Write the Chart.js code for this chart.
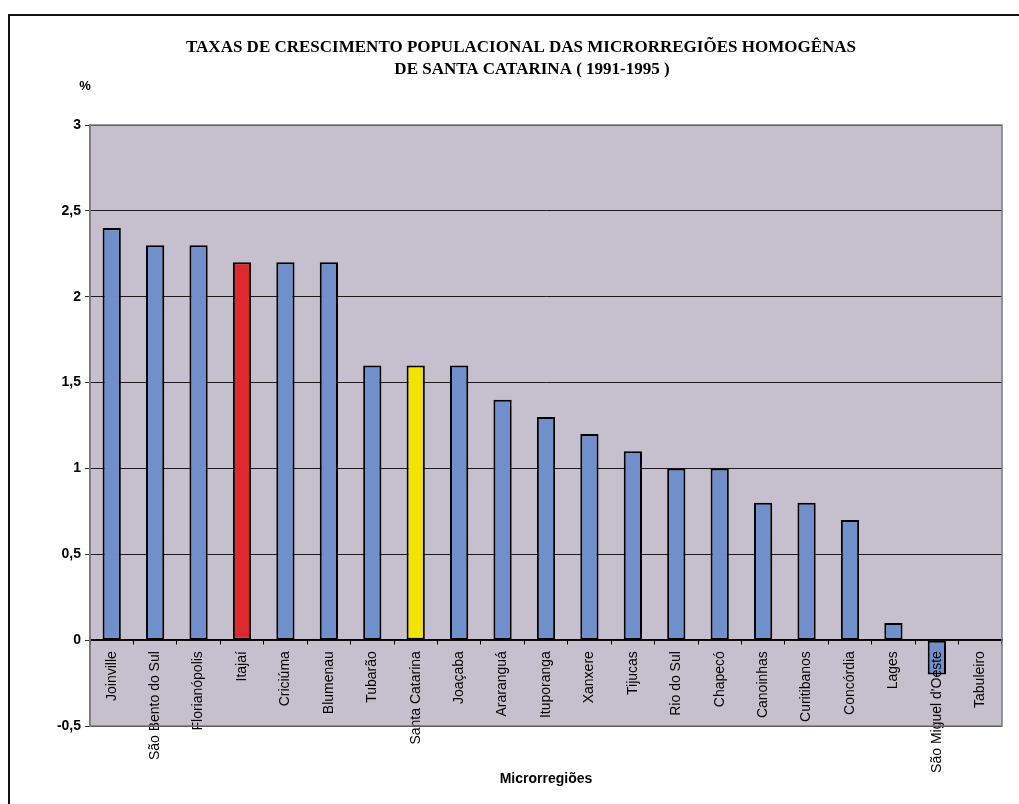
<!DOCTYPE html>
<html>
<head>
<meta charset="utf-8">
<script src="https://cdn.jsdelivr.net/npm/chart.js@4"></script>
<style>
  html, body { margin: 0; padding: 0; background: #ffffff; }
  #wrap { width: 1019px; height: 804px; position: relative; }
</style>
</head>
<body>
<div id="wrap"><canvas id="c" width="1019" height="804"></canvas></div>
<script>
// ---- data ----
const categories = ["Joinville", "São Bento do Sul", "Florianópolis", "Itajaí", "Criciúma", "Blumenau",
  "Tubarão", "Santa Catarina", "Joaçaba", "Araranguá", "Ituporanga", "Xanxere", "Tijucas",
  "Rio do Sul", "Chapecó", "Canoinhas", "Curitibanos", "Concórdia", "Lages", "São Miguel d'Oeste", "Tabuleiro"];
const growthRates = [2.4, 2.3, 2.3, 2.2, 2.2, 2.2, 1.6, 1.6, 1.6, 1.4, 1.3, 1.2, 1.1, 1.0, 1.0, 0.8, 0.8, 0.7, 0.1, -0.2, 0];
const yTickValues = [-0.5, 0, 0.5, 1, 1.5, 2, 2.5, 3];
const titleLines = ["TAXAS DE CRESCIMENTO POPULACIONAL DAS MICRORREGIÕES HOMOGÊNAS", "DE SANTA CATARINA ( 1991-1995 )"];
const yUnit = "%";
const xTitle = "Microrregiões";

// ---- styles ----
const BLUE = "#7090cc", RED = "#dc2a2e", YELLOW = "#f2e400";
const highlight = { "Itajaí": RED, "Santa Catarina": YELLOW };
const barColors = categories.map(c => highlight[c] || BLUE);

const decor = {
  id: "decor",
  beforeDraw(chart) {
    const { ctx, chartArea: a } = chart;
    ctx.save();
    ctx.fillStyle = "#c6bfcd";
    ctx.fillRect(a.left, a.top, a.right - a.left, a.bottom - a.top);
    ctx.restore();
  },
  afterDraw(chart) {
    const { ctx, chartArea: a } = chart;
    ctx.save();
    // plot border
    ctx.strokeStyle = "#7a7a7a";
    ctx.lineWidth = 1.5;
    ctx.strokeRect(a.left, a.top, a.right - a.left, a.bottom - a.top);
    // outer frame (top and left)
    ctx.strokeStyle = "#111";
    ctx.lineWidth = 2;
    ctx.beginPath();
    ctx.moveTo(9, 804); ctx.lineTo(9, 15); ctx.lineTo(1019, 15);
    ctx.stroke();
    // title
    ctx.fillStyle = "#000";
    ctx.textAlign = "center";
    ctx.textBaseline = "alphabetic";
    ctx.font = "bold 17px 'Liberation Serif', 'Times New Roman', serif";
    ctx.fillText(titleLines[0], 521, 52);
    ctx.fillText(titleLines[1], 532, 74);
    // unit
    ctx.font = "bold 13px 'Liberation Sans', Arial, sans-serif";
    ctx.fillText(yUnit, 85, 90);
    // x title
    ctx.font = "bold 14px 'Liberation Sans', Arial, sans-serif";
    ctx.fillText(xTitle, 546, 783);
    ctx.restore();
  }
};

new Chart(document.getElementById("c"), {
  type: "bar",
  data: {
    labels: categories,
    datasets: [{
      data: growthRates,
      backgroundColor: barColors,
      borderColor: "#000",
      borderWidth: 2,
      borderSkipped: false,
      barPercentage: 0.42,
      categoryPercentage: 1.0
    }]
  },
  options: {
    responsive: false,
    animation: false,
    devicePixelRatio: 1,
    layout: { padding: { left: 40, right: 17, top: 125, bottom: 78 } },
    plugins: { legend: { display: false }, title: { display: false }, tooltip: { enabled: false } },
    scales: {
      x: {
        position: { y: 0 },
        z: 1,
        grid: { display: true, drawOnChartArea: false, offset: true, tickLength: 4, color: "#000", lineWidth: 1 },
        border: { display: true, color: "#000", width: 1.5 },
        ticks: {
          z: 1,
          autoSkip: false, maxRotation: 90, minRotation: 90, padding: 7,
          color: "#000", font: { family: "'Liberation Sans', Arial, sans-serif", size: 14 }
        }
      },
      y: {
        min: -0.5, max: 3,
        afterBuildTicks(scale) { scale.ticks = yTickValues.map(v => ({ value: v })); },
        afterFit(scale) { scale.width = 50; },
        grid: { color: "#1a1a1a", lineWidth: 1, tickLength: 5, tickColor: "#333" },
        border: { display: true, color: "#7a7a7a", width: 1.5 },
        ticks: {
          padding: 4, color: "#000",
          font: { family: "'Liberation Sans', Arial, sans-serif", size: 14, weight: "bold" },
          callback: v => String(v).replace(".", ",")
        }
      }
    }
  },
  plugins: [decor]
});
</script>
</body>
</html>
